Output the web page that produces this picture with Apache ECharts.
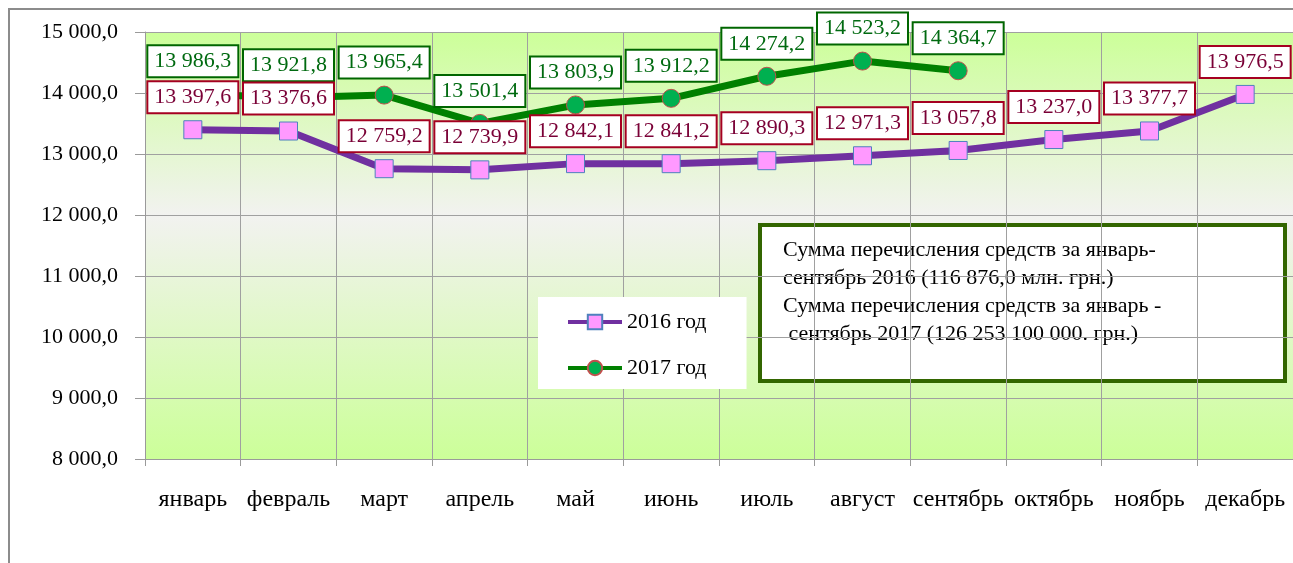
<!DOCTYPE html>
<html>
<head>
<meta charset="utf-8">
<script src="https://cdn.jsdelivr.net/npm/echarts@6/dist/echarts.min.js"></script>
<style>html,body{margin:0;padding:0;background:#fff}#c{width:1293px;height:563px}</style>
</head>
<body>
<div id="c"></div>
<script>
const months = ['январь','февраль','март','апрель','май','июнь','июль','август','сентябрь','октябрь','ноябрь','декабрь'];
const values2016 = [13397.6, 13376.6, 12759.2, 12739.9, 12842.1, 12841.2, 12890.3, 12971.3, 13057.8, 13237.0, 13377.7, 13976.5];
const values2017 = [13986.3, 13921.8, 13965.4, 13501.4, 13803.9, 13912.2, 14274.2, 14523.2, 14364.7];
const seriesNames = ['2016 год', '2017 год'];
const noteLines = [
  'Сумма перечисления средств за январь-',
  'сентябрь 2016 (116 876,0 млн. грн.)',
  'Сумма перечисления средств за январь -',
  ' сентябрь 2017 (126 253 100 000. грн.)'
];

const SERIF = 'Liberation Serif, Times New Roman, serif';
function fmt(v) {
  const s = v.toFixed(1).split('.');
  const int = s[0].replace(/\B(?=(\d{3})+(?!\d))/g, ' ');
  return int + ',' + s[1];
}

const chart = echarts.init(document.getElementById('c'));
chart.setOption({
  animation: false,
  backgroundColor: '#ffffff',
  grid: {
    left: 145, top: 32, right: -4, bottom: 104,
    show: true, borderWidth: 0,
    backgroundColor: {
      type: 'linear', x: 0, y: 0, x2: 0, y2: 1,
      colorStops: [
        {offset: 0, color: '#ccff99'},
        {offset: 0.43, color: '#f2f2f0'},
        {offset: 1, color: '#ccff99'}
      ]
    }
  },
  legend: {
    orient: 'vertical',
    left: 538, top: 297,
    backgroundColor: '#ffffff',
    padding: [14, 40, 10, 28],
    itemWidth: 54, itemHeight: 18, itemGap: 24,
    lineStyle: {width: 4},
    textStyle: {fontFamily: SERIF, fontSize: 22, color: '#000'},
    data: seriesNames
  },
  xAxis: {
    type: 'category',
    data: months,
    boundaryGap: true,
    axisLine: {lineStyle: {color: '#9a9a9a', width: 1}},
    axisTick: {show: true, length: 7, lineStyle: {color: '#9a9a9a'}},
    splitLine: {show: true, lineStyle: {color: '#a0a0a0', width: 1}},
    axisLabel: {interval: 0, margin: 29, fontFamily: SERIF, fontSize: 24, color: '#000'}
  },
  yAxis: {
    type: 'value',
    min: 8000, max: 15000, interval: 1000,
    axisLine: {show: true, lineStyle: {color: '#9a9a9a', width: 1}},
    axisTick: {show: true, length: 10, lineStyle: {color: '#9a9a9a'}},
    splitLine: {show: true, lineStyle: {color: '#a0a0a0', width: 1}},
    axisLabel: {margin: 27, fontFamily: SERIF, fontSize: 22, color: '#000', formatter: v => fmt(v)}
  },
  series: [
    {
      name: seriesNames[0],
      type: 'line',
      z: 4,
      data: values2016,
      symbol: 'rect', symbolSize: 18,
      lineStyle: {color: '#7030a0', width: 7},
      itemStyle: {color: '#ff99ff', borderColor: '#4f81bd', borderWidth: 1},
      label: {
        show: true, position: 'top', distance: 8,
        formatter: p => fmt(p.value),
        fontFamily: SERIF, fontSize: 22, color: '#7a0036',
        backgroundColor: '#ffffff', borderColor: '#a50021', borderWidth: 2,
        padding: [4, 6, 4, 6]
      }
    },
    {
      name: seriesNames[1],
      type: 'line',
      z: 3,
      data: values2017,
      symbol: 'circle', symbolSize: 18,
      lineStyle: {color: '#008000', width: 7},
      itemStyle: {color: '#00b050', borderColor: '#c0504d', borderWidth: 1},
      label: {
        show: true, position: 'top', distance: 8,
        formatter: p => fmt(p.value),
        fontFamily: SERIF, fontSize: 22, color: '#006a10',
        backgroundColor: '#ffffff', borderColor: '#006600', borderWidth: 2,
        padding: [4, 6, 4, 6]
      }
    }
  ],
  graphic: [
    {
      type: 'rect', z: 0, silent: true,
      shape: {x: 9, y: 9, width: 1320, height: 620},
      style: {fill: 'none', stroke: '#8c8c8c', lineWidth: 2}
    },
    {
      type: 'group', z: 100,
      children: [
        {
          type: 'rect',
          shape: {x: 760, y: 225, width: 525, height: 156},
          style: {fill: '#ffffff', stroke: '#336600', lineWidth: 4}
        },
        {
          type: 'text',
          x: 783, y: 236,
          style: {
            text: noteLines.join('\n'),
            font: '22px ' + SERIF,
            fill: '#000',
            lineHeight: 28
          }
        }
      ]
    }
  ]
});
</script>
</body>
</html>
